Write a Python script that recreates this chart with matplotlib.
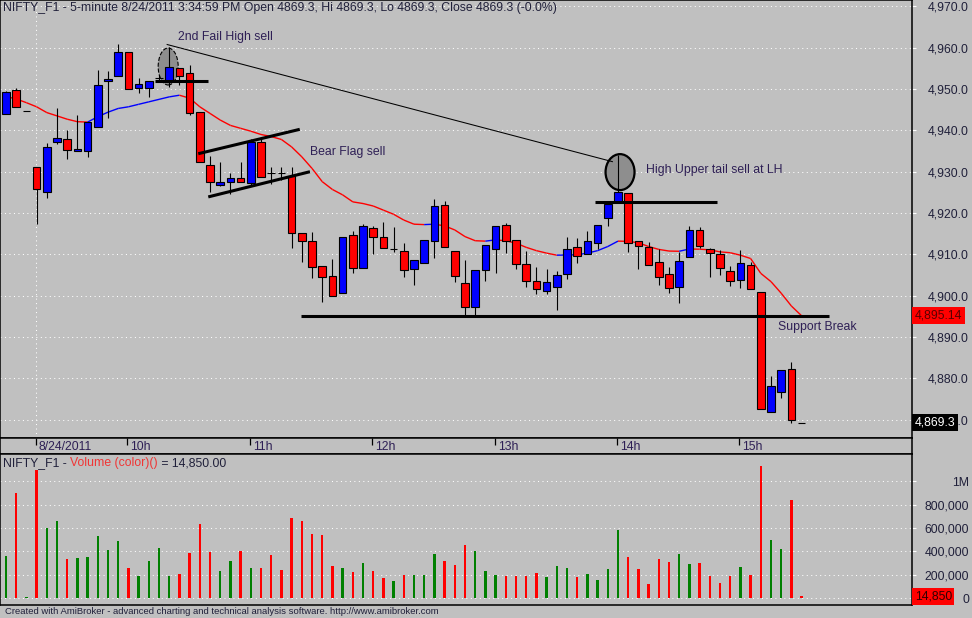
import numpy as np
import matplotlib.pyplot as plt
from matplotlib.collections import LineCollection
from matplotlib.patches import Ellipse

plt.rcParams['font.family'] = ['Liberation Sans', 'DejaVu Sans']

W, H = 972, 618
BG = '#c0c0c0'
TXT = '#20203a'
NOTE = '#2e1f55'
FS = 8.85

# 5-minute bars, 3 bars of 8/23 then 8/24 from 9:15 to 15:30
opens = [4943.9, 4949.8, 4944.8, 4931.1, 4925.2, 4937.1, 4937.8, 4934.9, 4935.1, 4940.9,
         4951.9, 4953.2, 4958.9, 4950.2, 4950.2, 4952.7, 4951.9, 4955.0, 4953.8, 4944.4,
         4931.6, 4926.7, 4927.6, 4928.4, 4927.3, 4937.1, 4929.6, 4929.6, 4929.0, 4915.1,
         4913.2, 4907.1, 4904.7, 4900.6, 4914.6, 4906.6, 4916.3, 4914.1, 4911.2, 4910.7,
         4906.4, 4907.8, 4913.2, 4921.9, 4910.7, 4903.1, 4897.3, 4906.1, 4911.2, 4917.0,
         4913.4, 4907.6, 4903.5, 4901.1, 4902.0, 4905.2, 4911.9, 4910.0, 4912.7, 4918.7,
         4922.7, 4924.8, 4913.2, 4911.9, 4908.1, 4905.2, 4902.0, 4909.3, 4916.0, 4911.4,
         4910.0, 4905.9, 4903.8, 4907.4, 4900.8, 4871.9, 4876.6, 4882.3, 4869.3]
highs = [4949.5, 4950.2, 4944.8, 4931.1, 4936.9, 4945.3, 4940.1, 4943.7, 4942.0, 4954.6,
         4954.4, 4960.8, 4958.9, 4952.7, 4951.9, 4953.5, 4960.2, 4955.0, 4955.8, 4944.4,
         4933.8, 4932.3, 4929.8, 4932.4, 4937.9, 4937.9, 4931.2, 4931.2, 4931.2, 4915.1,
         4915.5, 4907.1, 4908.9, 4914.1, 4915.6, 4917.4, 4916.8, 4917.8, 4916.5, 4912.7,
         4908.6, 4913.4, 4923.4, 4922.9, 4910.7, 4908.6, 4906.1, 4912.2, 4916.8, 4917.5,
         4913.4, 4910.7, 4906.9, 4906.5, 4905.9, 4914.1, 4913.9, 4915.6, 4917.0, 4922.1,
         4934.0, 4924.8, 4913.2, 4912.9, 4911.3, 4906.9, 4910.6, 4916.9, 4916.7, 4911.6,
         4911.0, 4907.1, 4911.0, 4908.2, 4900.8, 4880.6, 4882.0, 4884.0, 4869.3]
lows = [4943.9, 4945.7, 4944.8, 4917.3, 4923.6, 4936.8, 4933.1, 4934.9, 4933.6, 4940.9,
        4942.9, 4953.2, 4949.9, 4949.1, 4948.1, 4951.9, 4950.5, 4951.0, 4943.6, 4932.4,
        4925.2, 4926.5, 4924.6, 4927.4, 4926.8, 4928.8, 4927.0, 4928.0, 4911.5, 4908.2,
        4904.4, 4898.5, 4900.0, 4900.6, 4905.4, 4906.6, 4910.1, 4911.5, 4910.5, 4904.6,
        4902.7, 4907.8, 4909.0, 4911.7, 4903.4, 4895.2, 4895.2, 4903.6, 4905.4, 4910.4,
        4906.5, 4902.2, 4900.3, 4900.3, 4896.5, 4904.0, 4907.8, 4910.0, 4911.3, 4916.9,
        4922.7, 4910.6, 4906.4, 4907.4, 4902.6, 4900.7, 4898.2, 4909.3, 4911.6, 4904.6,
        4905.0, 4902.4, 4901.8, 4901.5, 4872.5, 4871.9, 4875.3, 4869.3, 4869.3]
closes = [4949.2, 4945.7, 4944.8, 4925.7, 4935.9, 4938.1, 4935.2, 4935.4, 4942.0, 4951.0,
          4952.4, 4958.9, 4949.9, 4951.1, 4951.9, 4952.7, 4955.3, 4953.2, 4944.1, 4932.4,
          4927.4, 4927.6, 4928.4, 4927.4, 4937.1, 4928.8, 4929.6, 4929.6, 4915.1, 4913.2,
          4907.0, 4904.6, 4900.0, 4914.1, 4906.6, 4916.8, 4914.1, 4911.5, 4911.2, 4906.3,
          4908.6, 4913.4, 4921.6, 4911.7, 4904.7, 4897.3, 4906.1, 4912.2, 4916.8, 4913.2,
          4907.6, 4903.5, 4901.5, 4903.2, 4904.9, 4911.2, 4909.5, 4913.2, 4917.0, 4922.1,
          4925.0, 4912.8, 4912.0, 4907.4, 4904.5, 4901.8, 4908.3, 4916.0, 4912.1, 4910.3,
          4906.6, 4903.5, 4907.8, 4901.5, 4872.5, 4878.1, 4882.0, 4869.9, 4869.3]
ema = [4948.2, 4947.6, 4946.7, 4945.7, 4944.3, 4943.5, 4942.7, 4942.1, 4942.0, 4943.3,
       4944.4, 4945.3, 4945.7, 4946.3, 4946.9, 4947.5, 4948.1, 4948.5, 4947.8, 4945.7,
       4944.1, 4942.5, 4941.2, 4940.5, 4939.8, 4939.0, 4938.5, 4937.8, 4936.0, 4933.6,
       4930.8, 4927.6, 4925.7, 4924.4, 4922.7, 4922.3, 4921.7, 4920.7, 4919.7, 4918.3,
       4917.3, 4917.2, 4917.3, 4916.9, 4915.9, 4914.3, 4913.3, 4913.2, 4913.5, 4913.3,
       4912.7, 4911.7, 4910.9, 4910.3, 4909.8, 4909.85, 4909.9, 4910.3, 4910.9, 4911.9,
       4913.2, 4913.15, 4912.8, 4911.9, 4911.2, 4910.8, 4910.75, 4911.3, 4911.25, 4911.1,
       4910.6, 4910.4, 4909.8, 4909.0, 4905.4, 4903.4, 4900.6, 4897.5, 4895.14]
volume = [360000, 903000, 11000, 1097000, 600000, 660000, 334000, 343000, 351000, 531000,
          411000, 489000, 257000, 189000, 317000, 429000, 189000, 206000, 386000, 634000,
          394000, 231000, 317000, 403000, 257000, 257000, 369000, 240000, 686000, 663000,
          549000, 540000, 274000, 257000, 223000, 300000, 231000, 171000, 146000, 197000,
          197000, 197000, 377000, 317000, 283000, 454000, 403000, 231000, 197000, 189000,
          189000, 189000, 214000, 180000, 274000, 257000, 180000, 206000, 154000, 249000,
          583000, 351000, 249000, 120000, 334000, 309000, 377000, 291000, 300000, 189000,
          129000, 189000, 266000, 197000, 1131000, 497000, 420000, 840000, 14850]
vol_flags = ("grgrggrggg" "ggrggggrrr" "rggrgrrrrr" "rrrgrgrrgr" "gggrrrgggr"
             "rrrgggrggg" "grrrrrggrr" "rrgrrggrr")

time_ticks = [3, 12, 24, 36, 48, 60, 72]
time_labels = ['8/24/2011', '10h', '11h', '12h', '13h', '14h', '15h']
price_ticks = list(range(4870, 4971, 10))
vol_ticks = [0, 200000, 400000, 600000, 800000, 1000000]
vol_labels = ['0', '200,000', '400,000', '600,000', '800,000', '1M']

# hand-drawn annotations (bar index, price)
trend_line = [(15.75, 4960.8), (59.5, 4932.4)]
fail_high = [(14.6, 4952.0), (19.8, 4952.0)]
flag_upper = [(18.85, 4934.35), (28.8, 4940.25)]
flag_lower = [(19.83, 4923.9), (29.8, 4930.0)]
lh_line = [(57.75, 4922.7), (69.7, 4922.7)]
support = [(28.9, 4895.15), (80.7, 4895.15)]
notes = [(16.9, 4962.6, '2nd Fail High sell'),
         (29.8, 4934.8, 'Bear Flag sell'),
         (62.75, 4930.4, 'High Upper tail sell at LH'),
         (75.7, 4892.4, 'Support Break')]


def px_box(x0, y0, x1, y1):
    return [x0 / W, 1 - y1 / H, (x1 - x0) / W, (y1 - y0) / H]


fig = plt.figure(figsize=(W / 100, H / 100), dpi=100, facecolor=BG)
ax = fig.add_axes(px_box(0, 0, 912, 438), facecolor=BG)
axt = fig.add_axes(px_box(0, 438, 912, 454), facecolor=BG)
axv = fig.add_axes(px_box(0, 454, 912, 605), facecolor=BG)

xlim = (-6 / 10.2, 906 / 10.2)
dots = (0, (1, 3.3))
for a in (ax, axt, axv):
    a.set_xlim(*xlim)
    for s in a.spines.values():
        s.set_color('black')
        s.set_linewidth(1.1)

x = np.arange(len(closes))
o = np.array(opens)
c = np.array(closes)
hi = np.array(highs)
lo = np.array(lows)

# price panel
ax.set_ylim(4865.57, 4971.54)
ax.set_xticks([])
ax.yaxis.tick_right()
ax.set_yticks(price_ticks)
ax.set_yticklabels([f'{v:,.1f}' for v in price_ticks], ha='right')
ax.tick_params(axis='y', length=3, width=0.8, color='white', pad=38,
               labelsize=FS, labelcolor=TXT)
ax.grid(axis='y', color='white', linestyle=dots, linewidth=0.75)
ax.set_axisbelow(True)
ax.axvline(time_ticks[0] - 0.1, color='white', linestyle=dots, linewidth=0.75, zorder=1)

segs = [[(i, ema[i]), (i + 1, ema[i + 1])] for i in range(len(ema) - 1)]
seg_cols = ['#0000ff' if ema[i + 1] > ema[i] else '#ff0000' for i in range(len(ema) - 1)]
ax.add_collection(LineCollection(segs, colors=seg_cols, linewidths=1.0, zorder=2))

for (ex, ey, ew, eh, ls, lw) in [(15.9, 4955.45, 1.96, 8.95, '--', 0.8),
                                 (60.2, 4929.9, 2.84, 8.7, '-', 1.6)]:
    ax.add_patch(Ellipse((ex, ey), ew, eh, facecolor='#8e8e8e', edgecolor='black',
                         linestyle=ls, linewidth=lw, zorder=2.5))

ax.vlines(x, lo, hi, color='black', linewidth=0.8, zorder=3)
body_cols = np.where(c > o, '#0000ff', '#ff0000')
ax.bar(x, np.abs(c - o), bottom=np.minimum(o, c), width=0.76, color=body_cols,
       edgecolor='black', linewidth=0.8, zorder=4)

for pts, lw in [(trend_line, 0.75), (fail_high, 2.2), (flag_upper, 2.2),
                (flag_lower, 2.2), (lh_line, 2.2), (support, 2.2)]:
    xs, ys = zip(*pts)
    ax.plot(xs, ys, color='black', linewidth=lw, solid_capstyle='butt', zorder=5)

for nx, ny, s in notes:
    ax.text(nx, ny, s, color=NOTE, fontsize=FS, va='center', ha='left', zorder=6)

ax.text(1.003, ema[-1], f'{ema[-1]:,.2f}', transform=ax.get_yaxis_transform(),
        color='#5a0000', fontsize=FS, va='center', ha='left', clip_on=False, zorder=7,
        bbox=dict(boxstyle='square,pad=0.2', fc='#ff0000', ec='none'))
ax.text(1.003, closes[-1], f'{closes[-1]:,.1f}', transform=ax.get_yaxis_transform(),
        color='white', fontsize=FS, va='center', ha='left', clip_on=False, zorder=7,
        bbox=dict(boxstyle='square,pad=0.2', fc='black', ec='none'))

# time strip
axt.set_ylim(0, 1)
axt.set_yticks([])
axt.xaxis.tick_top()
axt.set_xticks([t - 0.1 for t in time_ticks])
axt.set_xticklabels([])
axt.tick_params(axis='x', direction='in', length=5.3, width=0.9, color='black')
for t, s in zip(time_ticks, time_labels):
    axt.text(t + 0.2, 0.42, s, color=NOTE, fontsize=FS, va='center', ha='left')

# volume panel
axv.set_ylim(-60000, 1234300)
axv.set_xticks([])
axv.yaxis.tick_right()
axv.set_yticks(vol_ticks)
axv.set_yticklabels(vol_labels, ha='right')
axv.tick_params(axis='y', length=3, width=0.8, color='white', pad=38,
                labelsize=FS, labelcolor=TXT)
axv.grid(axis='y', color='white', linestyle=dots, linewidth=0.75)
axv.set_axisbelow(True)
vcols = ['#008000' if f == 'g' else '#ff0000' for f in vol_flags]
axv.bar(x, volume, width=0.24, color=vcols, zorder=3)
axv.text(1.003, volume[-1], f'{volume[-1]:,}', transform=axv.get_yaxis_transform(),
         color='#300000', fontsize=FS, va='center', ha='left', clip_on=False, zorder=7,
         bbox=dict(boxstyle='square,pad=0.2', fc='#ff0000', ec='none'))

# titles
fig.text(3 / W, 1 - 8 / H,
         'NIFTY_F1 - 5-minute 8/24/2011 3:34:59 PM Open 4869.3, Hi 4869.3, '
         'Lo 4869.3, Close 4869.3 (-0.0%)', color=TXT, fontsize=FS, va='center')
r = fig.canvas.get_renderer()
xpos = 3
for part, col in [('NIFTY_F1 - ', TXT), ('Volume (color)()', '#f03535'),
                  (f' = {volume[-1]:,.2f}', TXT)]:
    t = fig.text(xpos / W, 1 - 463 / H, part, color=col, fontsize=FS, va='center')
    xpos += t.get_window_extent(r).width
fig.text(5 / W, 1 - 611 / H,
         'Created with AmiBroker - advanced charting and technical analysis software. '
         'http://www.amibroker.com', color=TXT, fontsize=6.8, va='center')

fig.savefig('out.png', dpi=100, facecolor=BG)
